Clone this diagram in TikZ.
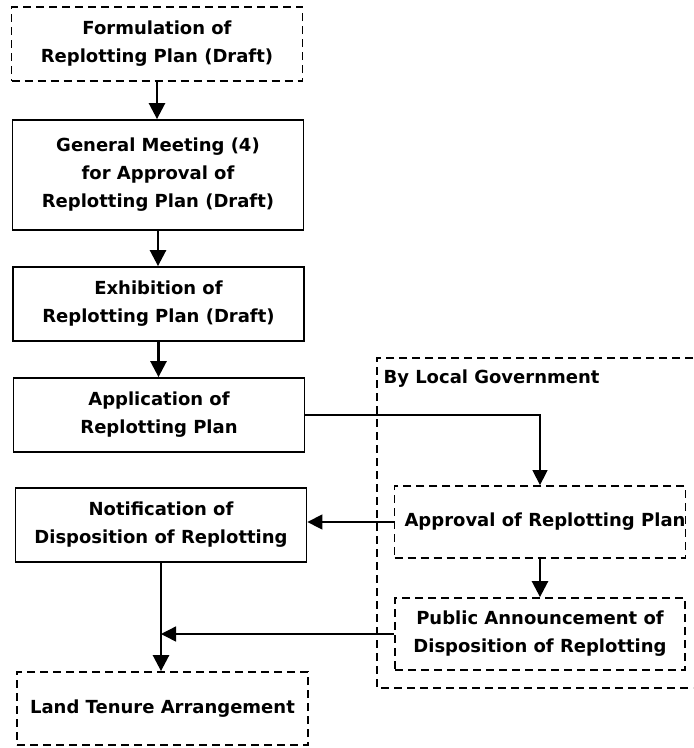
\documentclass[tikz,border=0pt]{standalone}
\usepackage{fontspec}
\setmainfont{DejaVu Sans}
\usetikzlibrary{arrows.meta}
\begin{document}
\begin{tikzpicture}[x=1pt,y=-1pt,
  txt/.style={font=\bfseries\fontsize{18}{28}\selectfont},
  stepbox/.style={txt,draw,line width=1.8pt,align=center,inner sep=0pt,
    minimum width=291pt,minimum height=74pt},
  dashbox/.style={stepbox,dash pattern=on 8pt off 5pt},
  flow/.style={line width=2.6pt,-{Triangle[length=16pt,width=16pt]}},
  thin flow/.style={line width=1.4pt,-{Triangle[length=15pt,width=15pt]}}]
  \useasboundingbox (0,0) rectangle (694,748);

  % region of the local government
  \draw[line width=1.8pt,dash pattern=on 8pt off 5pt]
    (693,358) -- (377,358) -- (377,688) -- (693,688);
  \node[txt,anchor=west] (lg) at (380,379) {By Local Government};

  % left column
  \node[dashbox] (b1) at (157,44) {Formulation of\\Replotting Plan (Draft)};
  \node[stepbox,minimum height=110pt] (b2) at (158,175)
    {General Meeting (4)\\for Approval of\\Replotting Plan (Draft)};
  \node[stepbox] (b3) at (158.5,304) {Exhibition of\\Replotting Plan (Draft)};
  \node[stepbox] (b4) at (159,415) {Application of\\Replotting Plan};
  \node[stepbox] (b5) at (161,525) {Notification of\\Disposition of Replotting};
  \node[dashbox,minimum height=73pt] (b6) at (162.5,708.5) {Land Tenure Arrangement};

  % right column
  \node[dashbox,minimum width=290pt,minimum height=72pt] (b7) at (540,522)
    {\hspace*{10pt}Approval of Replotting Plan};
  \node[dashbox,minimum width=290pt,minimum height=72pt] (b8) at (540,634)
    {Public Announcement of\\Disposition of Replotting};

  \coordinate (j) at (b5.south |- b8.west);

  % connectors
  \draw[flow] (b1.south) -- (b1.south |- b2.north);
  \draw[flow] (b2.south) -- (b2.south |- b3.north);
  \draw[flow] (b3.south) -- (b3.south |- b4.north);
  \draw[flow] (b5.south) -- (b5.south |- b6.north);
  \draw[thin flow] (b4.east) -| (b7.north);
  \draw[flow] (b7) -- (b8);
  \draw[thin flow] (b7.west) -- (b7.west -| b5.east);
  \draw[thin flow] (b8.west) -- (j);
\end{tikzpicture}
\end{document}
